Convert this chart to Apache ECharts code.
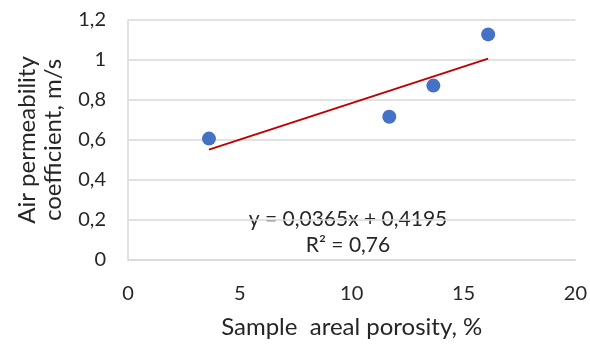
<!DOCTYPE html>
<html>
<head>
<meta charset="utf-8">
<script src="https://cdn.jsdelivr.net/npm/echarts@6/dist/echarts.min.js"></script>
<style>
  html, body { margin: 0; padding: 0; background: #fff; }
  #chart { width: 590px; height: 344px; }
</style>
</head>
<body>
<div id="chart"></div>
<script>
// measured points
const porosity = [3.62, 11.68, 13.65, 16.1];
const permeability = [0.607, 0.716, 0.872, 1.128];

// linear trend line endpoints (as drawn)
const trendX = [3.62, 16.1];
const trendY = [0.552, 1.007];

const equationText = 'y = 0,0365x + 0,4195';
const r2Text = 'R² = 0,76';

const font = 'Lato';
const textColor = '#262626';
const chart = echarts.init(document.getElementById('chart'));

const option = {
    animation: false,
    grid: { left: 128, right: 14, top: 20, bottom: 83 },
    xAxis: {
        type: 'value',
        min: 0,
        max: 20,
        interval: 5,
        name: 'Sample  areal porosity, %',
        nameLocation: 'middle',
        nameGap: 55,
        nameTextStyle: { fontFamily: font, fontSize: 24, color: textColor },
        axisLine: { show: true, lineStyle: { color: '#D9D9D9', width: 1.5 } },
        axisTick: { show: false },
        splitLine: { show: false },
        axisLabel: { fontFamily: font, fontSize: 20, color: textColor, margin: 24 }
    },
    yAxis: {
        type: 'value',
        min: 0,
        max: 1.2,
        interval: 0.2,
        name: 'Air permeability\ncoefficient, m/s',
        nameLocation: 'middle',
        nameGap: 62,
        nameTextStyle: { fontFamily: font, fontSize: 24, color: textColor, lineHeight: 26 },
        axisLine: { show: true, lineStyle: { color: '#D9D9D9', width: 1.5 } },
        axisTick: { show: false },
        splitLine: { show: true, lineStyle: { color: '#D9D9D9', width: 1.5 } },
        axisLabel: {
            fontFamily: font, fontSize: 20, color: textColor, margin: 22,
            formatter: v => String(Math.round(v * 10) / 10).replace('.', ',')
        }
    },
    series: [
        {
            type: 'line',
            data: trendX.map((x, i) => [x, trendY[i]]),
            symbol: 'none',
            lineStyle: { color: '#C00000', width: 2 },
            z: 2
        },
        {
            type: 'scatter',
            data: porosity.map((x, i) => [x, permeability[i]]),
            symbolSize: 14,
            itemStyle: { color: '#4472C4', opacity: 1 },
            z: 3
        }
    ],
    // trendline labels, centred under the plot
    graphic: [
        { type: 'text', x: 348, y: 219, style: { text: equationText, font: '21px ' + font, fill: textColor, align: 'center', verticalAlign: 'middle' } },
        { type: 'text', x: 348, y: 245, style: { text: r2Text, font: '21px ' + font, fill: textColor, align: 'center', verticalAlign: 'middle' } }
    ]
};

chart.setOption(option);
</script>
</body>
</html>
